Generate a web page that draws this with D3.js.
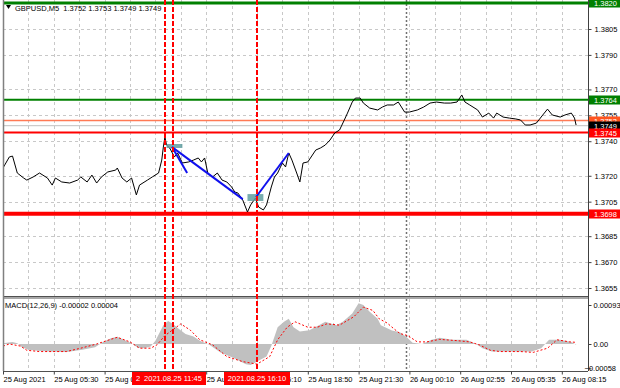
<!DOCTYPE html>
<html>
<head>
<meta charset="utf-8">
<script src="https://cdn.jsdelivr.net/npm/d3@7"></script>
<style>
  body { margin: 0; background: #fff; }
  svg { display: block; font-family: "Liberation Sans", Arial, sans-serif; font-size: 7.5px; }
</style>
</head>
<body>
<svg id="chart" width="620" height="388"></svg>
<script>
// ---- data ----
const symbolTitle = "GBPUSD,M5  1.3752 1.3753 1.3749 1.3749";
const macdTitle = "MACD(12,26,9) -0.00002 0.00004";

const timeLabels = ["25 Aug 2021", "25 Aug 05:30", "25 Aug 08:10", "25 Aug 10:50", "25 Aug 13:30", "25 Aug 16:10",
  "25 Aug 18:50", "25 Aug 21:30", "26 Aug 00:10", "26 Aug 02:55", "26 Aug 05:35", "26 Aug 08:15"];
const priceTicks = [1.3805, 1.3790, 1.3770, 1.3755, 1.3740, 1.3720, 1.3705, 1.3685, 1.3670, 1.3655];
const macdTicks = [0.00093, 0, -0.00058];

// horizontal levels
const levelNames = ["top", "resistance", "ask", "bid", "support", "low"];
const levelValues = [1.3820, 1.3764, 1.3752, 1.3749, 1.3745, 1.3698];

// vertical time markers (bar numbers, 5 min bars)
const markerBars = [102, 107, 160];
const markerLabels = ["2021.08.25 11:20", "2021.08.25 11:45", "2021.08.25 16:10"];
const dayBreakBar = 254;

// hand drawn trend lines and boxes [bar, price]
const trendFrom = [[106.5, 1.37366], [106.5, 1.37366], [159.4, 1.37077]];
const trendTo = [[116, 1.37216], [151, 1.37065], [180, 1.37332]];
const boxFrom = [[103, 1.37384], [154, 1.37094]];
const boxTo = [[113, 1.37361], [164, 1.37054]];

// close prices
const priceBar = [0, 4, 6, 9, 13, 15, 19, 23, 28, 31, 33, 37, 42, 47, 49, 53, 56, 59, 62, 66, 71, 72, 75, 78, 81, 84, 86,
  91, 94, 98, 100, 101, 102, 103, 105, 108, 110, 113, 117, 120, 123, 125, 127, 129, 132, 135, 138, 141, 144, 146, 148,
  151, 154, 156, 159, 161, 164, 166, 169, 171, 173, 176, 178, 180, 182, 185, 187, 189, 192, 197, 200, 203, 206, 209,
  212, 215, 217, 220, 222, 225, 227, 231, 236, 239, 242, 246, 249, 251, 253, 256, 261, 265, 269, 273, 278, 282, 286,
  289, 291, 294, 299, 302, 306, 309, 311, 315, 319, 323, 326, 329, 332, 336, 340, 343, 346, 351, 354, 358, 360, 361];
const priceClose = [1.37245, 1.37309, 1.37314, 1.37216, 1.37187, 1.37175, 1.37193, 1.37216, 1.37187, 1.37146, 1.37187,
  1.37164, 1.37158, 1.37175, 1.37193, 1.37164, 1.37204, 1.37158, 1.37193, 1.37222, 1.37233, 1.37245, 1.37187, 1.37164,
  1.37187, 1.37089, 1.37146, 1.37175, 1.37193, 1.37216, 1.37291, 1.37366, 1.37424, 1.37378, 1.37361, 1.37309, 1.37332,
  1.37274, 1.37280, 1.37291, 1.37303, 1.37280, 1.37303, 1.37216, 1.37193, 1.37216, 1.37175, 1.37164, 1.37135, 1.37106,
  1.37100, 1.37060, 1.36990, 1.37031, 1.37071, 1.37019, 1.37002, 1.37031, 1.37135, 1.37193, 1.37216, 1.37274, 1.37251,
  1.37332, 1.37291, 1.37216, 1.37164, 1.37274, 1.37280, 1.37349, 1.37361, 1.37378, 1.37407, 1.37448, 1.37465, 1.37523,
  1.37563, 1.37627, 1.37650, 1.37650, 1.37621, 1.37592, 1.37581, 1.37598, 1.37610, 1.37610, 1.37627, 1.37598, 1.37569,
  1.37569, 1.37581, 1.37598, 1.37621, 1.37627, 1.37621, 1.37621, 1.37627, 1.37668, 1.37627, 1.37610, 1.37581, 1.37540,
  1.37563, 1.37534, 1.37563, 1.37540, 1.37534, 1.37529, 1.37523, 1.37494, 1.37494, 1.37505, 1.37552, 1.37586, 1.37552,
  1.37540, 1.37552, 1.37563, 1.37534, 1.37494];

// MACD main (histogram)
const macdBar = [0, 6, 9, 12, 16, 22, 30, 40, 50, 58, 63, 68, 72, 76, 81, 85, 89, 93, 96, 99, 101, 104, 107, 110, 115,
  120, 124, 130, 137, 145, 153, 156, 160, 166, 169, 173, 177, 180, 183, 187, 193, 199, 203, 210, 214, 220, 224, 227,
  231, 236, 238, 245, 250, 254, 258, 264, 270, 275, 283, 292, 298, 302, 308, 320, 333, 339, 344, 351, 358, 361];
const macdMain = [0.00002, 0.00005, 0.00002, -0.00008, -0.00014, -0.00016, -0.00018, -0.00019, -0.00014, -0.00008,
  0.00005, 0.00014, 0.00017, 0.00010, 0.00002, -0.00009, -0.00010, -0.00006, 0.00008, 0.00030, 0.00045, 0.00055,
  0.00048, 0.00038, 0.00024, 0.00018, 0.00008, -0.00002, -0.00020, -0.00033, -0.00048, -0.00050, -0.00042, -0.00030,
  -0.00005, 0.00040, 0.00053, 0.00060, 0.00040, 0.00030, 0.00033, 0.00045, 0.00053, 0.00045, 0.00053, 0.00073,
  0.00097, 0.00093, 0.00077, 0.00060, 0.00045, 0.00032, 0.00028, 0.00017, 0.00003, 0.00000, 0.00010, 0.00015,
  0.00010, 0.00010, 0.00000, -0.00010, -0.00018, -0.00018, -0.00018, -0.00010, 0.00010, 0.00010, 0.00005, -0.00002];

// MACD signal
const signalBar = [0, 4, 11, 15, 23, 40, 49, 59, 67, 72, 80, 86, 93, 97, 102, 112, 118, 124, 132, 141, 151, 160, 168,
  173, 179, 184, 192, 198, 204, 212, 221, 227, 233, 237, 242, 246, 250, 255, 261, 267, 275, 286, 294, 300, 307, 313,
  326, 334, 343, 349, 357, 361];
const signalVal = [-0.00005, 0.00000, -0.00005, -0.00015, -0.00018, -0.00018, -0.00010, 0.00000, 0.00010, 0.00016,
  0.00005, -0.00010, -0.00010, -0.00002, 0.00020, 0.00048, 0.00033, 0.00010, -0.00002, -0.00030, -0.00042, -0.00048,
  -0.00030, 0.00010, 0.00040, 0.00053, 0.00040, 0.00040, 0.00048, 0.00045, 0.00065, 0.00088, 0.00080, 0.00060,
  0.00050, 0.00037, 0.00025, 0.00020, 0.00005, 0.00005, 0.00011, 0.00008, 0.00005, -0.00002, -0.00015, -0.00018,
  -0.00018, -0.00020, -0.00010, 0.00010, 0.00005, 0.00004];

// ---- layout ----
const left = 3, right = 588;
const mainTop = 0, mainBottom = 296, macdTop = 299, macdBottom = 371;

const svg = d3.select("#chart");
svg.append("rect").attr("width", 620).attr("height", 388).attr("fill", "#fff");

const x = d3.scaleLinear().domain([0, 352]).range([3, 561.8]);
const y = d3.scaleLinear().domain([1.3655, 1.3805]).range([288, 29]);
const ym = d3.scaleLinear().domain([0, 0.00093]).range([344, 305]);
const px = v => Math.round(v) + 0.5;

const defs = svg.append("defs");
defs.append("clipPath").attr("id", "clipMain").append("rect")
  .attr("x", left).attr("y", mainTop).attr("width", right - left).attr("height", mainBottom - mainTop);
defs.append("clipPath").attr("id", "clipMacd").append("rect")
  .attr("x", left).attr("y", macdTop).attr("width", right - left).attr("height", macdBottom - macdTop);

const main = svg.append("g").attr("clip-path", "url(#clipMain)");
const macd = svg.append("g").attr("clip-path", "url(#clipMacd)");

// grid
const gridBars = d3.range(16, 353, 16);
[[main, mainTop, mainBottom], [macd, macdTop, macdBottom]].forEach(([g, t, b]) => {
  g.append("g").selectAll("line").data(gridBars).join("line")
    .attr("x1", d => px(x(d))).attr("x2", d => px(x(d)))
    .attr("y1", t).attr("y2", b)
    .attr("stroke", "#c8c8c8").attr("stroke-dasharray", "3,3");
  g.append("line")
    .attr("x1", px(x(dayBreakBar))).attr("x2", px(x(dayBreakBar)))
    .attr("y1", t).attr("y2", b)
    .attr("stroke", "#707070").attr("stroke-width", 1.5).attr("stroke-dasharray", "2,2");
});
main.append("g").selectAll("line").data(priceTicks).join("line")
  .attr("x1", left).attr("x2", right)
  .attr("y1", d => px(y(d))).attr("y2", d => px(y(d)))
  .attr("stroke", "#c8c8c8").attr("stroke-dasharray", "3,3");

// level lines
const levelStyle = {
  top: { line: "#008000", w: 3, box: "#008000" },
  resistance: { line: "#008000", w: 2, box: "#008000" },
  ask: { line: "#ff7a55", w: 1.5, box: "#ff5520" },
  bid: { line: "#c0c0c0", w: 1, box: "#000000" },
  support: { line: "#ff0000", w: 2, box: "#ff0000" },
  low: { line: "#ff0000", w: 4, box: "#ff0000" }
};
const levels = levelNames.map((n, i) => ({ name: n, value: levelValues[i] }));
main.append("g").selectAll("line").data(levels).join("line")
  .attr("x1", left).attr("x2", right)
  .attr("y1", d => y(d.value)).attr("y2", d => y(d.value))
  .attr("stroke", d => levelStyle[d.name].line)
  .attr("stroke-width", d => levelStyle[d.name].w);

// price line
const price = priceBar.map((b, i) => ({ bar: b, v: priceClose[i] }));
main.append("path").datum(price)
  .attr("fill", "none").attr("stroke", "#000").attr("stroke-width", 1)
  .attr("d", d3.line().x(d => x(d.bar)).y(d => y(d.v)));

// boxes and trend lines
main.append("g").selectAll("rect").data(boxFrom.map((f, i) => [f, boxTo[i]])).join("rect")
  .attr("x", d => x(d[0][0])).attr("y", d => y(d[0][1]))
  .attr("width", d => x(d[1][0]) - x(d[0][0]))
  .attr("height", d => y(d[1][1]) - y(d[0][1]))
  .attr("fill", "#5f9ea0").attr("opacity", 0.85);
main.append("g").selectAll("line").data(trendFrom.map((f, i) => [f, trendTo[i]])).join("line")
  .attr("x1", d => x(d[0][0])).attr("y1", d => y(d[0][1]))
  .attr("x2", d => x(d[1][0])).attr("y2", d => y(d[1][1]))
  .attr("stroke", "#1010ee").attr("stroke-width", 2);

// MACD
const macdData = macdBar.map((b, i) => ({ bar: b, v: macdMain[i] }));
macd.append("path").datum(macdData)
  .attr("fill", "#c0c0c0")
  .attr("d", d3.area().x(d => x(d.bar)).y0(ym(0)).y1(d => ym(d.v)));
const sigData = signalBar.map((b, i) => ({ bar: b, v: signalVal[i] }));
macd.append("path").datum(sigData)
  .attr("fill", "none").attr("stroke", "#ff0000").attr("stroke-width", 1)
  .attr("stroke-dasharray", "2,2")
  .attr("d", d3.line().x(d => x(d.bar)).y(d => ym(d.v)));

// frames
svg.append("rect").attr("x", left).attr("y", mainBottom).attr("width", right - left).attr("height", 3).attr("fill", "#a8a8a8");
svg.append("line").attr("x1", left).attr("x2", right).attr("y1", mainBottom + 0.5).attr("y2", mainBottom + 0.5).attr("stroke", "#505050");
svg.append("line").attr("x1", left).attr("x2", right).attr("y1", macdBottom + 0.5).attr("y2", macdBottom + 0.5).attr("stroke", "#505050");
svg.append("line").attr("x1", left + 0.5).attr("x2", left + 0.5).attr("y1", 0).attr("y2", macdBottom).attr("stroke", "#808080").attr("stroke-width", 1.5);
svg.append("line").attr("x1", right + 0.5).attr("x2", right + 0.5).attr("y1", 0).attr("y2", macdBottom).attr("stroke", "#404040");

// vertical red markers (drawn over everything in the plot)
svg.append("g").selectAll("line").data(markerBars).join("line")
  .attr("x1", d => Math.round(x(d))).attr("x2", d => Math.round(x(d)))
  .attr("y1", 0).attr("y2", macdBottom)
  .attr("stroke", "#ff0000").attr("stroke-width", 2)
  .attr("stroke-dasharray", "5,2")
  .attr("shape-rendering", "crispEdges");

// price axis
const yAxis = svg.append("g").attr("transform", `translate(${right + 0.5},0)`)
  .call(d3.axisRight(y).tickValues(priceTicks).tickSize(3).tickPadding(3).tickFormat(d3.format(".4f")));
yAxis.select(".domain").remove();
yAxis.selectAll("text").attr("font-size", 7.5).attr("fill", "#000").attr("font-family", null);
yAxis.selectAll("line").attr("stroke", "#404040");

// MACD axis
const mAxis = svg.append("g").attr("transform", `translate(${right + 0.5},0)`)
  .call(d3.axisRight(ym).tickValues(macdTicks).tickSize(3).tickPadding(3)
    .tickFormat(d => d === 0 ? "0.00" : d3.format(".5f")(d)));
mAxis.select(".domain").remove();
mAxis.selectAll("text").attr("font-size", 7.5).attr("fill", "#000").attr("font-family", null)
  .attr("x", d => d < 0 ? -4 : 5);
mAxis.selectAll("line").attr("stroke", "#404040");

// level boxes on the price axis
const lb = svg.append("g").selectAll("g").data(levels).join("g")
  .attr("transform", d => `translate(${right + 1},${Math.round(y(d.value))})`);
lb.append("rect").attr("x", 0).attr("y", -4.5).attr("width", 32).attr("height", 9)
  .attr("fill", d => levelStyle[d.name].box);
lb.append("text").attr("x", 5).attr("y", 3).attr("fill", "#fff")
  .text(d => d3.format(".4f")(d.value));

// time axis
const xAxis = svg.append("g").attr("transform", `translate(0,${macdBottom + 0.5})`)
  .call(d3.axisBottom(x).tickValues(d3.range(0, 353, 32)).tickSize(3).tickPadding(2)
    .tickFormat((d, i) => timeLabels[i]));
xAxis.select(".domain").remove();
xAxis.selectAll("text").attr("text-anchor", "start").attr("x", 0)
  .attr("font-size", 7.5).attr("fill", "#000").attr("font-family", null);
xAxis.selectAll("line").attr("stroke", "#404040");

// time marker boxes (cover the axis labels underneath, as in the terminal)
const mb = svg.append("g").selectAll("g").data(markerBars.map((b, i) => ({ bar: b, label: markerLabels[i] }))).join("g")
  .attr("transform", d => `translate(${Math.round(x(d.bar))},${macdBottom + 1})`);
mb.append("rect").attr("x", -33).attr("y", 0).attr("width", 66).attr("height", 13).attr("fill", "#ff0000");
mb.append("text").attr("x", 0).attr("y", 9).attr("text-anchor", "middle").attr("fill", "#fff")
  .text(d => d.label);

// titles
svg.append("path").attr("d", "M6,5 L11,5 L8.5,9 Z").attr("fill", "#000");
svg.append("text").attr("x", 15).attr("y", 10.5).attr("fill", "#000")
  .style("white-space", "pre").text(symbolTitle);
svg.append("text").attr("x", 5).attr("y", 308).attr("fill", "#000").text(macdTitle);
</script>
</body>
</html>
